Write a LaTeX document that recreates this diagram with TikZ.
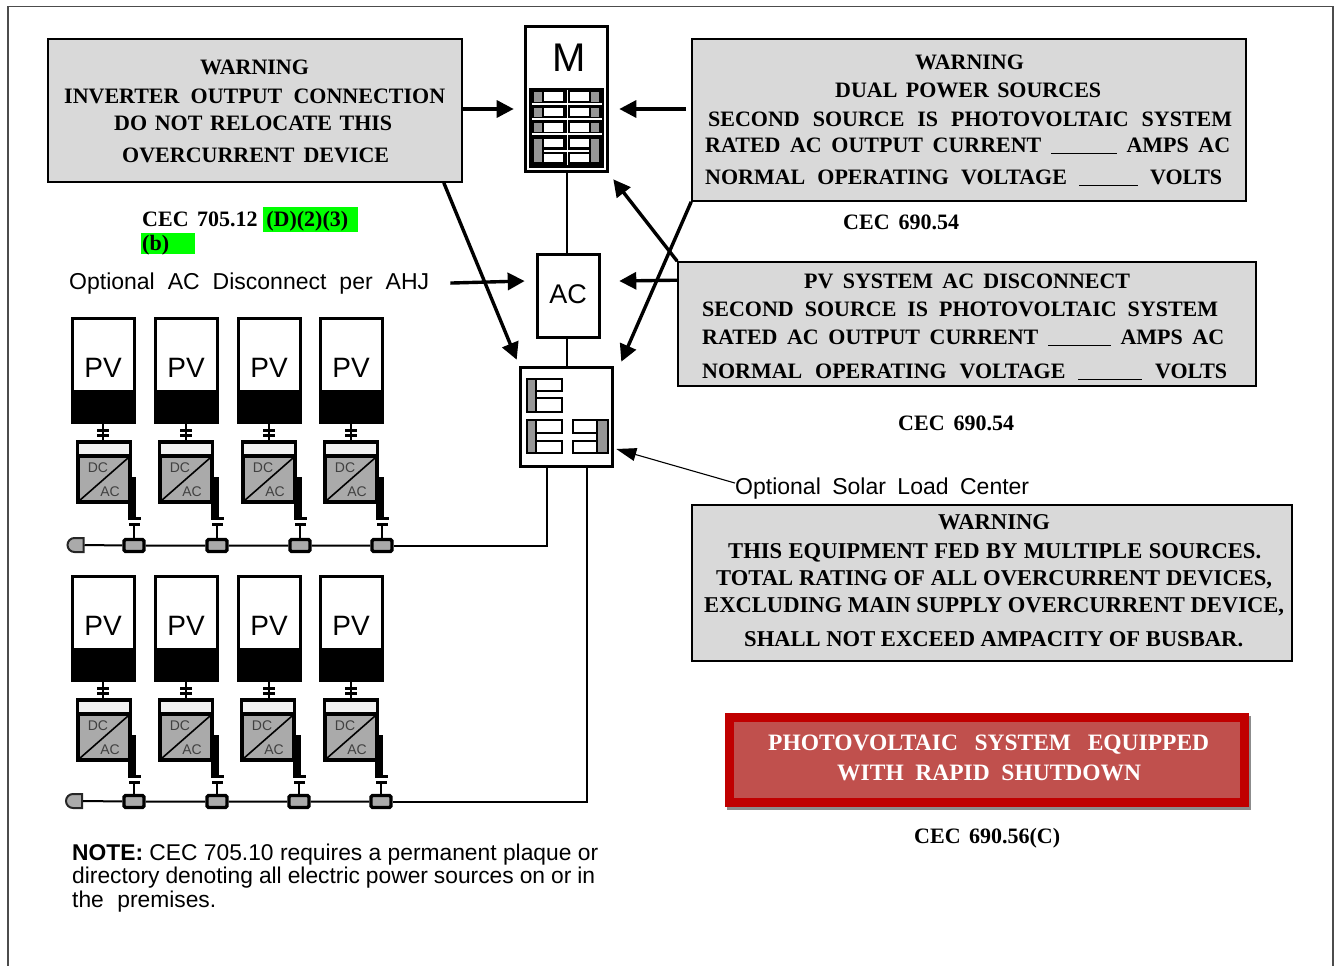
\documentclass[tikz,border=0pt]{standalone}
\usepackage{fontspec}
\setmainfont{Liberation Serif}
\newfontfamily\arialfont{Liberation Sans}
\usetikzlibrary{arrows.meta, positioning, shapes.misc}
\definecolor{warnGray}{RGB}{217, 217, 217}
\definecolor{brkGray}{RGB}{150, 150, 150}
\definecolor{invGray}{RGB}{170, 170, 170}
\definecolor{labelRed}{RGB}{192, 80, 77}
\definecolor{labelEdge}{RGB}{192, 0, 0}
\newcommand{\fitline}[2]{\makebox[#1pt][s]{#2}}
\newcommand{\blankline}[1]{\rule[-2pt]{#1pt}{1.5pt}}

\begin{document}
\begin{tikzpicture}[x=1pt, y=-1pt,
  warnbox/.style={rectangle, draw=black, fill=warnGray, line width=1.6pt, inner sep=0pt},
  warntxt/.style={anchor=base west, yshift=-7pt, inner sep=0pt, font=\fontsize{22}{24}\selectfont\bfseries},
  swtxt/.style={anchor=base west, yshift=-8pt, inner sep=0pt, font=\arialfont\fontsize{23}{26}\selectfont},
  gear/.style={rectangle, draw=black, fill=white, line width=3.6pt, inner sep=0pt},
  cell/.style={draw=black, fill=white, line width=1.4pt},
  pvbox/.style={rectangle, draw=black, fill=white, line width=3pt, inner sep=0pt, minimum width=62pt, minimum height=73pt},
  invbox/.style={rectangle, draw=black, fill=invGray, line width=3.2pt, inner sep=0pt, minimum width=52pt, minimum height=60pt},
  jbox/.style={rectangle, draw=black, fill=invGray, line width=3.4pt, rounded corners=1.5pt, inner sep=0pt, minimum width=20pt, minimum height=12pt},
  capbox/.style={rounded rectangle, rounded rectangle east arc=none, draw=black!85, fill=invGray, line width=2pt, inner sep=0pt, minimum width=16pt, minimum height=14pt},
  invtxt/.style={inner sep=0pt, text=black!75, font=\arialfont\fontsize{14}{14}\selectfont},
  arrow/.style={-{Triangle[length=17pt, width=17pt]}, line width=3.4pt},
  wire/.style={line width=2pt},
  bar/.style={line width=3pt},
]
  \useasboundingbox (0,0) rectangle (1334,966);
  \draw[line width=1.5pt, black!70] (8,966) -- (8,6.5) -- (1333,6.5) -- (1333,966);

  % warning boxes
  \node[warnbox, minimum width=414pt, minimum height=143pt] (warnA) at (255,110.5) {};
  \node[warnbox, minimum width=554pt, minimum height=162pt] (warnB) at (969,120) {};
  \node[warnbox, minimum width=578pt, minimum height=124pt] (warnC) at (967,324) {};
  \node[warnbox, minimum width=600pt, minimum height=156pt] (warnD) at (992,583) {};
  \node[rectangle, fill=black!45, inner sep=0pt, minimum width=524pt, minimum height=94pt] (redshadow) at (989,763) {};
  \node[rectangle, draw=labelEdge, fill=labelRed, line width=8.5pt, inner sep=0pt,
    minimum width=515pt, minimum height=85pt] (red) at (987,760) {};

  \foreach \x/\y/\tw/\txt [count=\n] in {
    200/68/110/{WARNING},
    64/96/381/{INVERTER OUTPUT CONNECTION},
    114/123/278/{DO NOT RELOCATE THIS},
    122/155/267/{OVERCURRENT DEVICE}}
    \node[warntxt] (warnAt\n) at (\x,\y) {\fitline{\tw}{\txt}};
  \foreach \x/\y/\tw/\txt [count=\n] in {
    915/63/110/{WARNING},
    835/91/266/{DUAL POWER SOURCES},
    708/119/524/{SECOND SOURCE IS PHOTOVOLTAIC SYSTEM},
    705/145/525/{RATED AC OUTPUT CURRENT \blankline{66} AMPS AC},
    705/177/517/{NORMAL OPERATING VOLTAGE \blankline{59} VOLTS}}
    \node[warntxt] (warnBt\n) at (\x,\y) {\fitline{\tw}{\txt}};
  \foreach \x/\y/\tw/\txt [count=\n] in {
    804/281/326/{PV SYSTEM AC DISCONNECT},
    702/309/516/{SECOND SOURCE IS PHOTOVOLTAIC SYSTEM},
    702/337/522/{RATED AC OUTPUT CURRENT \blankline{63} AMPS AC},
    702/371/525/{NORMAL OPERATING VOLTAGE \blankline{64} VOLTS}}
    \node[warntxt] (warnCt\n) at (\x,\y) {\fitline{\tw}{\txt}};
  \foreach \x/\y/\tw/\txt [count=\n] in {
    938/522/112/{WARNING},
    728/551/533/{THIS EQUIPMENT FED BY MULTIPLE SOURCES.},
    716/578/556/{TOTAL RATING OF ALL OVERCURRENT DEVICES,},
    704/605/580/{EXCLUDING MAIN SUPPLY OVERCURRENT DEVICE,},
    744/639/499/{SHALL NOT EXCEED AMPACITY OF BUSBAR.}}
    \node[warntxt, font=\fontsize{22.6}{24}\selectfont\bfseries] (warnDt\n) at (\x,\y) {\fitline{\tw}{\txt}};
  \foreach \x/\y/\tw/\txt [count=\n] in {
    768/743/441/{PHOTOVOLTAIC SYSTEM EQUIPPED},
    837/773/304/{WITH RAPID SHUTDOWN}}
    \node[warntxt, text=white, font=\fontsize{23.5}{24}\selectfont\bfseries] (redt\n) at (\x,\y) {\fitline{\tw}{\txt}};

  % code references
  \node[rectangle, fill=green, inner sep=0pt, minimum width=95pt, minimum height=25pt] (hlA) at (310.5,219.5) {};
  \node[rectangle, fill=green, inner sep=0pt, minimum width=54pt, minimum height=21pt] (hlB) at (168,243.5) {};
  \node[warntxt] (cecA) at (142,219) {\fitline{206}{CEC 705.12 (D)(2)(3)}};
  \node[warntxt] (cecB) at (142,243) {(b)};
  \node[warntxt] (cecC) at (843,222) {\fitline{116}{CEC 690.54}};
  \node[warntxt] (cecD) at (898,423) {\fitline{116}{CEC 690.54}};
  \node[warntxt] (cecE) at (914,836) {\fitline{146}{CEC 690.56(C)}};

  % service gear
  \node[gear, minimum width=82pt, minimum height=145pt] (M) at (566.5,99) {};
  \node[inner sep=0pt, font=\arialfont\fontsize{40}{40}\selectfont] (Mtxt) at (569,58) {M};
  \node[rectangle, fill=black, inner sep=0pt, minimum width=75pt, minimum height=80pt] (panel) at (566.5,128) {};
  \foreach \ya/\yb in {92/102, 108/117, 123/132, 139/162} {
    \fill[brkGray] (534,\ya) rectangle (542,\yb);
    \fill[brkGray] (591,\ya) rectangle (599,\yb);
  }
  \foreach \ya/\yb in {92/101, 108/116, 123/132, 139/147, 154/162} {
    \fill[white] (544,\ya) rectangle (563,\yb);
    \fill[white] (570,\ya) rectangle (589,\yb);
  }
  \foreach \y in {104, 119, 134}
    \draw[white, line width=1.3pt] (532,\y) -- (602,\y);
  \draw[white, line width=1.3pt] (544,151) -- (589,151);
  \draw[white, line width=1.3pt] (567.5,90) -- (567.5,165);

  \node[gear, minimum width=62pt, minimum height=83pt] (AC) at (568.5,296) {};
  \node[inner sep=0pt, font=\arialfont\fontsize{27}{27}\selectfont] (ACtxt) at (568,294) {AC};

  \node[gear, minimum width=92pt, minimum height=99pt] (LC) at (566.5,417) {};
  \foreach \xa/\xb/\xc/\xd/\ya/\yb/\yc/\yd in {
    527/536/536/562/379/391/398/412,
    527/536/536/562/420/433/441/453,
    597/608/573/597/420/433/441/453} {
    \draw[cell, fill=brkGray] (\xa,\ya) rectangle (\xb,\yd);
    \draw[cell] (\xc,\ya) rectangle (\xd,\yb);
    \draw[cell] (\xc,\yc) rectangle (\xd,\yd);
  }

  \draw[wire] (M.south) -- (M.south |- AC.north);
  \draw[wire] (AC.south -| M.south) -- (M.south |- LC.north);

  % labels with arrows
  \node[swtxt] (optAC) at (69,281) {\fitline{360}{Optional AC Disconnect per AHJ}};
  \node[swtxt] (optLoad) at (735,486) {\fitline{294}{Optional Solar Load Center}};

  \draw[arrow] ([yshift=1.5pt]warnA.east) -- ([xshift=-10pt,yshift=-10pt]M.west);
  \draw[arrow] ([xshift=-5pt,yshift=11pt]warnB.west) -- ([xshift=10pt,yshift=-10pt]M.east);
  \draw[arrow] ([xshift=-19pt]warnA.south east) -- ([xshift=-2pt,yshift=6pt]LC.north west);
  \draw[arrow] (warnB.south west) -- ([xshift=7pt,yshift=4pt]LC.north east);
  \draw[arrow] (warnC.north west) -- ([xshift=4pt,yshift=-6pt]M.south east);
  \draw[arrow] ([yshift=-19pt]warnC.north west) -- ([xshift=18pt,yshift=15pt]AC.east);
  \draw[arrow] ([xshift=21pt]optAC.east) -- ([xshift=-11pt,yshift=15pt]AC.west);
  \draw[-{Triangle[length=20pt, width=13pt]}, line width=1.1pt] ([yshift=5pt]optLoad.west) -- ([xshift=2pt,yshift=-32pt]LC.east);

  % pv strings
  \foreach \r/\dy/\dj/\capx/\xlist in {
    1/0/0/75.5/{1/103/77/134, 2/186/159/217, 3/269/242/300, 4/351/324/382},
    2/258/256/74/{1/103/77/134, 2/186/159/217, 3/269/241/299, 4/351/324/381}} {
    \node[capbox] (cap\r) at (\capx,545+\dj) {};
    \foreach \i/\px/\ix/\jx in \xlist {
      \node[pvbox] (pv\r\i) at (\px,355+\dy) {};
      \node[inner sep=0pt, font=\arialfont\fontsize{28}{28}\selectfont] (pvt\r\i) at (\px,368+\dy) {PV};
      \node[rectangle, fill=black, inner sep=0pt, minimum width=65pt, minimum height=31pt,
        below=0pt of pv\r\i] (pvb\r\i) {};
      \node[invbox] (inv\r\i) at (\ix+27,472+\dy) {};
      \fill[white!95!black] (\ix+2,444+\dy) rectangle (\ix+52,454+\dy);
      \fill (\ix+2,454+\dy) rectangle (\ix+52,458+\dy);
      \draw[line width=1.6pt] (\ix+2,501+\dy) -- (\ix+51,458+\dy);
      \node[invtxt] (dc\r\i) at (\ix+21,468+\dy) {DC};
      \node[invtxt] (ac\r\i) at (\ix+33,492+\dy) {AC};
      \draw[wire] (pvb\r\i.south) -- (pvb\r\i.south |- inv\r\i.north);
      \draw[bar] (\px-6,430+\dy) -- (\px+6,430+\dy);
      \draw[bar] (\px-6,435.5+\dy) -- (\px+6,435.5+\dy);
      \node[jbox] (jb\r\i) at (\jx,545.5+\dj) {};
      \draw[line width=5pt] (\jx-1,477+\dy) -- (\jx-1,505+\dy);
      \draw[line width=8pt] (\jx-2,503+\dy) -- (\jx-2,517+\dy);
      \draw[bar] (\jx-6,518+\dy) -- (\jx+7,518+\dy);
      \draw[bar] (\jx-5,524+\dy) -- (\jx+6,524+\dy);
      \draw[wire] (\jx,524+\dy) -- (jb\r\i.north);
    }
    \draw[wire] (cap\r) -- (jb\r1) -- (jb\r2) -- (jb\r3) -- (jb\r4);
  }
  \draw[wire] ([xshift=-19.5pt]LC.south) |- (jb14.east);
  \draw[wire] ([xshift=20.5pt]LC.south) |- (jb24.east);

  % note
  \foreach \x/\y/\tw/\txt [count=\n] in {
    72/852/526/{\textbf{NOTE:} CEC 705.10 requires a permanent plaque or},
    72/875/523/{directory denoting all electric power sources on or in},
    72/899/144/{the premises.}}
    \node[swtxt, font=\arialfont\fontsize{22.8}{24}\selectfont] (note\n) at (\x,\y) {\fitline{\tw}{\txt}};
\end{tikzpicture}
\end{document}
